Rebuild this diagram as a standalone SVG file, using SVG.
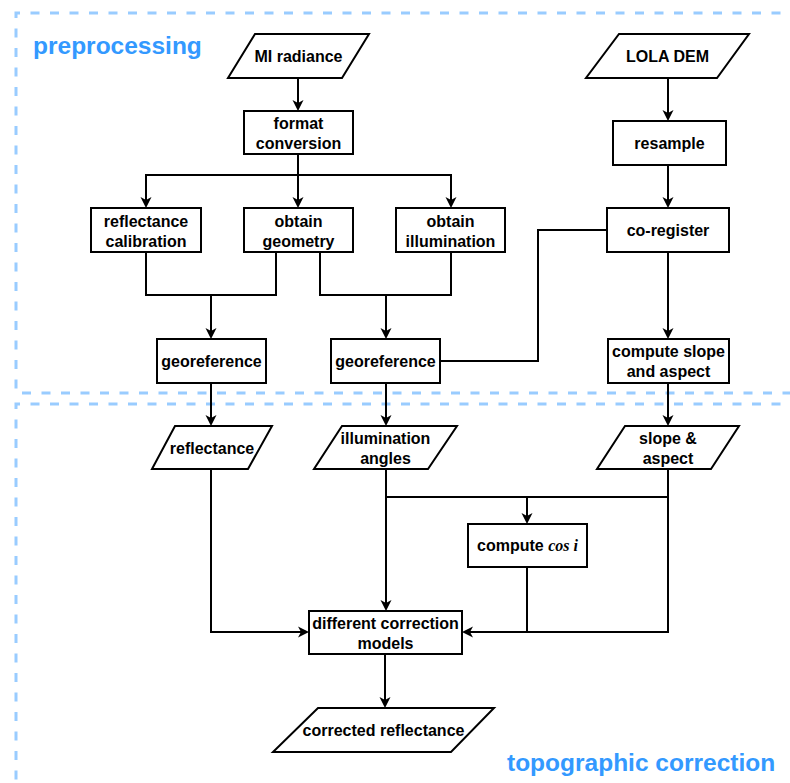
<svg xmlns="http://www.w3.org/2000/svg" width="790" height="783" viewBox="0 0 790 783">
<style>
.grp{fill:none;stroke:#99CCFF;stroke-width:3;stroke-dasharray:9 10.5}
.gl{font-family:"Liberation Sans",Arial,Helvetica,sans-serif;font-weight:bold;font-size:24.5px;fill:#3399FF}
.n{fill:#fff;stroke:#000;stroke-width:2}
.t{font-family:"Liberation Sans",Arial,Helvetica,sans-serif;font-weight:bold;font-size:16px;fill:#000;text-anchor:middle}
.it{font-family:"Liberation Serif","Times New Roman",serif;font-style:italic;font-weight:bold}
.e{fill:none;stroke:#000;stroke-width:2}
.a{marker-end:url(#arr)}
</style>
<defs>
<marker id="arr" markerUnits="userSpaceOnUse" markerWidth="12" markerHeight="11" viewBox="0 0 12 11" refX="5" refY="5.5" orient="auto" overflow="visible">
<path d="M0,0 L11,5.5 L0,11 L3,5.5 z" fill="#000"/>
</marker>
</defs>
<rect width="790" height="783" fill="#fff"/>
<g id="groups">
<path class="grp" d="M800,13 H16 V393 H800"/>
<path class="grp" d="M800,404 H16 V790"/>
<text class="gl" x="33" y="54">preprocessing</text>
<text class="gl" x="507" y="771">topographic correction</text>
</g>
<g id="connectors">
<path class="e a" d="M298,78 V105"/>
<path class="e a" d="M298,154 V202"/>
<path class="e a" d="M298,175 H146 V202"/>
<path class="e a" d="M298,175 H451 V202"/>
<path class="e" d="M146,252 V295 H276 V252"/>
<path class="e a" d="M211,295 V333"/>
<path class="e" d="M320,252 V295 H451 V252"/>
<path class="e a" d="M386,295 V333"/>
<path class="e a" d="M668,78 V115"/>
<path class="e a" d="M668,165 V202"/>
<path class="e a" d="M668,252 V333"/>
<path class="e" d="M607,230 H538 V361 H440"/>
<path class="e a" d="M211,383 V420"/>
<path class="e a" d="M386,383 V420"/>
<path class="e a" d="M668,383 V420"/>
<path class="e a" d="M211,469 V632 H303"/>
<path class="e a" d="M386,469 V605"/>
<path class="e" d="M386,497 H668"/>
<path class="e a" d="M527,497 V518"/>
<path class="e a" d="M668,469 V632 H468"/>
<path class="e" d="M527,567 V632"/>
<path class="e a" d="M385,654 V702"/>
</g>
<g id="mi-radiance">
<polygon class="n" points="255,34 369,34 342,78 228,78"/>
<text class="t" x="298.5" y="62">MI radiance</text>
</g>
<g id="format-conversion">
<rect class="n" x="244" y="111" width="109" height="43"/>
<text class="t" x="298.5" y="129">format</text>
<text class="t" x="298.5" y="149">conversion</text>
</g>
<g id="reflectance-calibration">
<rect class="n" x="91" y="208" width="110" height="44"/>
<text class="t" x="146" y="226.5">reflectance</text>
<text class="t" x="146" y="246.5">calibration</text>
</g>
<g id="obtain-geometry">
<rect class="n" x="244" y="208" width="109" height="44"/>
<text class="t" x="298.5" y="226.5">obtain</text>
<text class="t" x="298.5" y="246.5">geometry</text>
</g>
<g id="obtain-illumination">
<rect class="n" x="396" y="208" width="109" height="44"/>
<text class="t" x="450.5" y="226.5">obtain</text>
<text class="t" x="450.5" y="246.5">illumination</text>
</g>
<g id="lola-dem">
<polygon class="n" points="619,34 749,34 717,78 586,78"/>
<text class="t" x="667.5" y="62">LOLA DEM</text>
</g>
<g id="resample">
<rect class="n" x="613" y="121" width="113" height="44"/>
<text class="t" x="669.5" y="149">resample</text>
</g>
<g id="co-register">
<rect class="n" x="607" y="208" width="122" height="44"/>
<text class="t" x="668" y="236">co-register</text>
</g>
<g id="georeference-1">
<rect class="n" x="157" y="339" width="109" height="44"/>
<text class="t" x="211.5" y="367">georeference</text>
</g>
<g id="georeference-2">
<rect class="n" x="331" y="339" width="109" height="44"/>
<text class="t" x="385.5" y="367">georeference</text>
</g>
<g id="compute-slope">
<rect class="n" x="608" y="339" width="121" height="44"/>
<text class="t" x="668.5" y="357">compute slope</text>
<text class="t" x="668.5" y="377">and aspect</text>
</g>
<g id="reflectance">
<polygon class="n" points="175,426 272,426 248,469 152,469"/>
<text class="t" x="212" y="454">reflectance</text>
</g>
<g id="illumination-angles">
<polygon class="n" points="342,426 457,426 428,469 314,469"/>
<text class="t" x="385.5" y="444">illumination</text>
<text class="t" x="385.5" y="464">angles</text>
</g>
<g id="slope-aspect">
<polygon class="n" points="625,426 739,426 711,469 597,469"/>
<text class="t" x="668" y="444">slope &amp;</text>
<text class="t" x="668" y="464">aspect</text>
</g>
<g id="compute-cos-i">
<rect class="n" x="468" y="524" width="119" height="43"/>
<text class="t" x="527.5" y="551">compute <tspan class="it">cos i</tspan></text>
</g>
<g id="correction-models">
<rect class="n" x="309" y="611" width="153" height="43"/>
<text class="t" x="385.5" y="629">different correction</text>
<text class="t" x="385.5" y="649">models</text>
</g>
<g id="corrected-reflectance">
<polygon class="n" points="318,708 494,708 451,752 273,752"/>
<text class="t" x="383.5" y="736">corrected reflectance</text>
</g>
</svg>
